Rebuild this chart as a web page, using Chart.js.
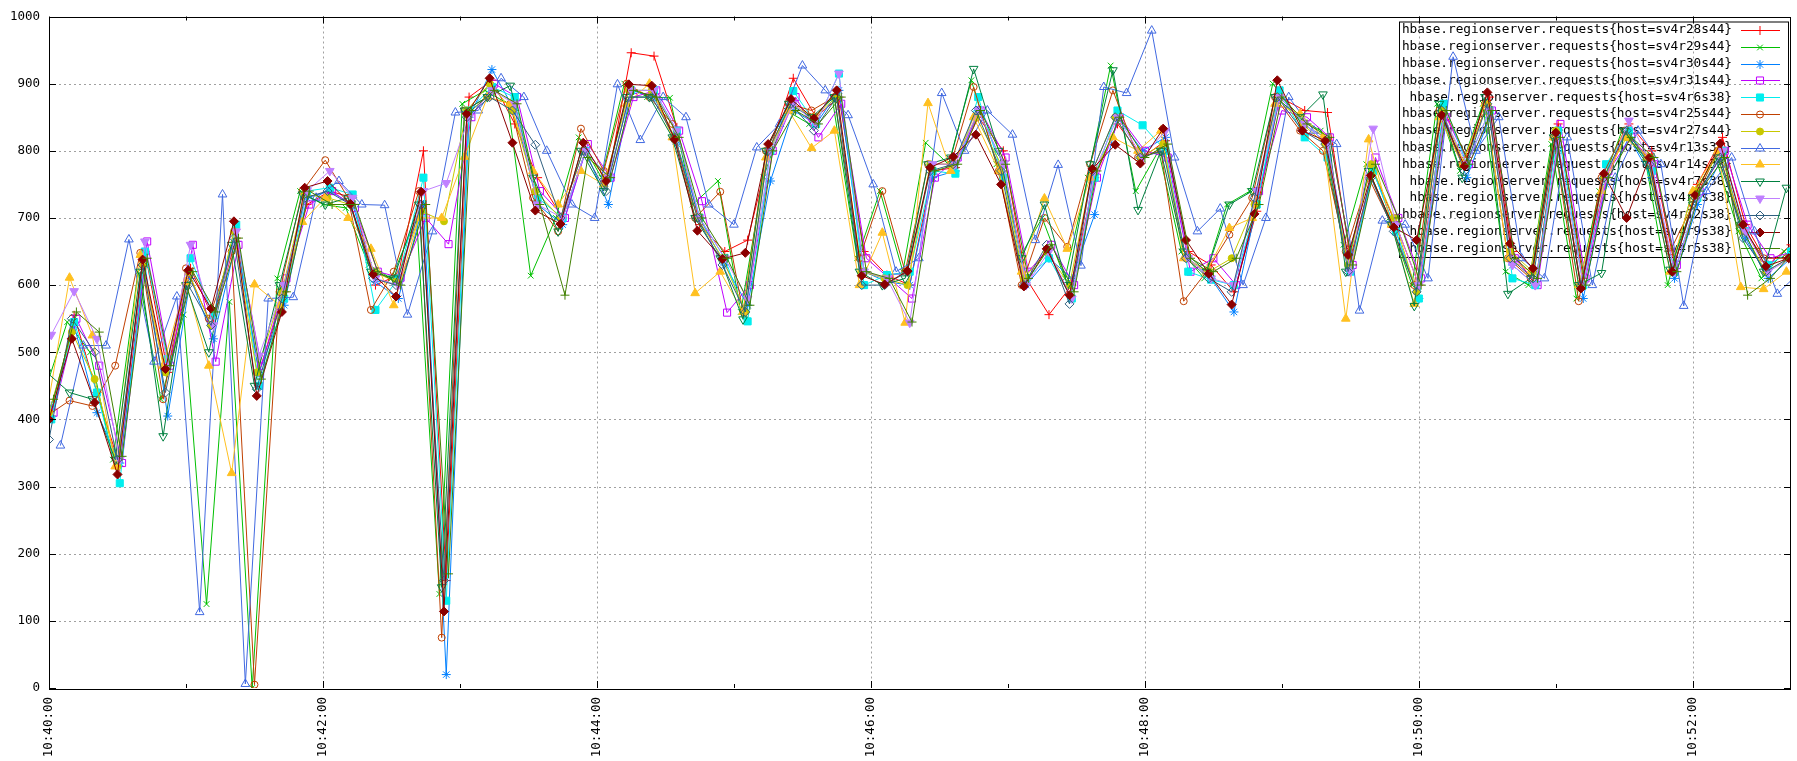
<!DOCTYPE html>
<html>
<head>
<meta charset="utf-8">
<script src="https://cdn.jsdelivr.net/npm/chart.js@4.4.1/dist/chart.umd.min.js"></script>
<style>
    html, body { margin: 0; padding: 0; background: #ffffff; }
    #wrap { width: 1797px; height: 761px; }
</style>
</head>
<body>
<div id="wrap"><canvas id="requestsChart" width="1797" height="761"></canvas></div>
<script>
// sample times, seconds after 10:40:00
const times = [0, 10, 20, 30, 41, 51, 61, 71, 81, 91,
    102, 112, 122, 132, 142, 152, 163, 173, 183, 193,
    203, 213, 224, 234, 244, 254, 264, 274, 284, 295,
    305, 315, 325, 335, 345, 356, 366, 376, 386, 396,
    406, 417, 427, 437, 447, 457, 467, 478, 488, 498,
    508, 518, 528, 538, 549, 559, 569, 579, 589, 599,
    610, 620, 630, 640, 650, 660, 671, 681, 691, 701,
    711, 721, 732, 742, 752, 762];

const hosts = ['sv4r28s44', 'sv4r29s44', 'sv4r30s44', 'sv4r31s44', 'sv4r6s38', 'sv4r25s44', 'sv4r27s44',
    'sv4r13s38', 'sv4r14s38', 'sv4r7s38', 'sv4r8s38', 'sv4r12s38', 'sv4r9s38', 'sv4r5s38'];

// each host reports a few seconds off the common clock
const hostOffsets = [1, -2, 1, 2, 1, -1, 0, 5, -1, -1, 1, 0, 0, 2];

const sv4r28s44 = [405, 555, 440, 330, 650, 470, 625, 550, 670, 470,
    590, 720, 740, 730, 600, 615, 800, 160, 880, 905,
    840, 760, 700, 800, 760, 946, 941, 835, 690, 650,
    667, 805, 908, 850, 880, 650, 615, 600, 770, 775,
    850, 800, 610, 556, 600, 760, 840, 790, 815, 650,
    630, 590, 710, 880, 860, 857, 640, 770, 690, 600,
    860, 790, 880, 650, 600, 840, 610, 760, 840, 800,
    630, 750, 820, 690, 630, 660];
const sv4r29s44 = [440, 545, 500, 340, 620, 430, 556, 125, 575, 0,
    610, 740, 720, 715, 630, 610, 700, 140, 870, 890,
    870, 614, 700, 820, 760, 900, 880, 879, 720, 755,
    560, 761, 860, 840, 880, 640, 740, 620, 812, 780,
    905, 780, 640, 700, 610, 760, 927, 740, 800, 650,
    610, 720, 740, 900, 850, 830, 660, 780, 700, 600,
    870, 770, 870, 620, 600, 810, 580, 740, 830, 790,
    600, 730, 790, 680, 610, 650];
const sv4r30s44 = [420, 540, 410, 335, 630, 405, 610, 520, 665, 470,
    570, 730, 740, 720, 605, 580, 720, 20, 850, 921,
    860, 720, 690, 800, 720, 890, 880, 810, 700, 630,
    570, 755, 860, 840, 890, 620, 605, 600, 760, 770,
    860, 780, 600, 640, 610, 705, 850, 800, 820, 640,
    610, 560, 720, 880, 840, 810, 620, 770, 680, 580,
    850, 760, 850, 630, 600, 800, 580, 750, 820, 760,
    610, 720, 790, 670, 610, 640];
const sv4r31s44 = [410, 550, 480, 335, 665, 480, 660, 486, 660, 480,
    610, 720, 740, 715, 620, 611, 700, 661, 850, 900,
    880, 740, 700, 810, 760, 880, 890, 830, 725, 559,
    600, 800, 880, 820, 870, 640, 610, 580, 760, 790,
    860, 790, 620, 660, 600, 760, 850, 800, 790, 620,
    640, 600, 740, 860, 850, 820, 630, 790, 700, 610,
    850, 780, 860, 640, 600, 840, 610, 770, 820, 780,
    630, 740, 800, 690, 640, 650];
const sv4r6s38 = [400, 545, 440, 305, 650, 490, 640, 555, 690, 450,
    580, 740, 745, 735, 563, 610, 760, 130, 860, 895,
    880, 730, 700, 800, 760, 890, 890, 830, 700, 640,
    546, 800, 889, 840, 915, 600, 615, 620, 770, 766,
    880, 760, 610, 640, 580, 760, 860, 838, 800, 620,
    608, 600, 720, 890, 820, 790, 620, 770, 680, 580,
    870, 780, 860, 610, 600, 830, 600, 780, 830, 770,
    620, 730, 800, 680, 630, 650];
const sv4r25s44 = [405, 428, 420, 480, 648, 430, 625, 550, 650, 5,
    590, 740, 786, 730, 563, 620, 740, 75, 860, 880,
    870, 730, 680, 833, 770, 900, 880, 840, 700, 739,
    560, 800, 870, 860, 880, 640, 740, 620, 780, 780,
    895, 770, 600, 700, 657, 780, 890, 790, 800, 576,
    620, 675, 730, 880, 830, 800, 650, 760, 690, 600,
    860, 780, 870, 640, 610, 820, 576, 760, 830, 790,
    650, 720, 800, 690, 640, 640];
const sv4r27s44 = [410, 530, 460, 330, 630, 470, 620, 540, 680, 470,
    590, 735, 730, 720, 620, 605, 710, 695, 860, 900,
    860, 740, 700, 800, 760, 890, 890, 820, 700, 640,
    560, 800, 870, 850, 880, 620, 610, 600, 780, 780,
    850, 780, 610, 650, 600, 770, 850, 790, 810, 640,
    620, 640, 720, 880, 840, 810, 630, 780, 700, 590,
    860, 780, 870, 650, 620, 830, 600, 760, 820, 790,
    620, 740, 800, 680, 620, 640];
const sv4r13s38 = [361, 510, 510, 668, 486, 583, 113, 735, 6, 580,
    582, 730, 755, 720, 719, 556, 680, 857, 860, 908,
    880, 800, 720, 700, 899, 816, 880, 850, 720, 690,
    805, 840, 927, 890, 853, 750, 620, 640, 886, 800,
    860, 824, 667, 779, 629, 895, 886, 979, 790, 680,
    714, 600, 700, 880, 830, 810, 562, 696, 690, 610,
    940, 800, 850, 640, 610, 820, 600, 760, 830, 780,
    569, 740, 790, 680, 587, 620];
const sv4r14s38 = [410, 611, 525, 330, 645, 480, 605, 480, 320, 601,
    570, 694, 730, 700, 654, 570, 700, 700, 791, 880,
    870, 770, 720, 770, 750, 870, 900, 820, 588, 620,
    560, 790, 860, 804, 830, 600, 678, 544, 871, 770,
    850, 770, 620, 729, 654, 760, 820, 800, 830, 640,
    620, 685, 700, 870, 855, 820, 550, 817, 690, 572,
    850, 780, 870, 640, 620, 820, 600, 740, 820, 790,
    620, 740, 800, 597, 594, 620];
const sv4r7s38 = [470, 440, 430, 340, 620, 375, 600, 500, 660, 450,
    600, 735, 720, 730, 620, 610, 720, 150, 860, 880,
    897, 760, 680, 800, 740, 880, 880, 820, 700, 640,
    549, 800, 870, 850, 880, 620, 600, 610, 780, 790,
    922, 800, 640, 720, 600, 780, 920, 712, 800, 650,
    620, 720, 740, 880, 850, 884, 620, 770, 690, 569,
    870, 760, 880, 587, 610, 820, 600, 618, 830, 780,
    623, 720, 790, 690, 620, 745];
const sv4r8s38 = [526, 591, 520, 340, 665, 480, 660, 540, 680, 495,
    600, 740, 770, 730, 610, 600, 740, 752, 850, 890,
    870, 720, 700, 800, 760, 890, 890, 830, 700, 640,
    580, 800, 870, 840, 915, 620, 610, 544, 780, 780,
    860, 780, 600, 650, 580, 770, 850, 790, 830, 640,
    610, 600, 740, 880, 840, 810, 620, 833, 690, 600,
    850, 780, 860, 630, 600, 810, 600, 760, 845, 780,
    620, 730, 800, 680, 620, 640];
const sv4r12s38 = [370, 550, 500, 340, 630, 440, 600, 540, 670, 445,
    580, 730, 740, 720, 610, 600, 720, 160, 850, 880,
    860, 809, 700, 800, 740, 880, 880, 820, 700, 630,
    560, 800, 870, 830, 880, 600, 600, 620, 770, 780,
    860, 770, 600, 660, 572, 770, 850, 790, 800, 640,
    610, 590, 730, 880, 830, 810, 620, 760, 680, 590,
    860, 770, 870, 640, 610, 820, 600, 760, 830, 780,
    620, 730, 790, 670, 620, 640];
const sv4r9s38 = [400, 520, 425, 318, 638, 475, 622, 565, 695, 435,
    560, 745, 755, 721, 616, 583, 739, 114, 855, 908,
    812, 711, 691, 812, 755, 899, 897, 817, 681, 639,
    648, 810, 877, 848, 890, 614, 601, 621, 775, 791,
    824, 750, 598, 654, 585, 773, 809, 781, 833, 667,
    617, 571, 706, 905, 830, 815, 645, 763, 686, 667,
    853, 777, 887, 662, 625, 827, 595, 766, 700, 790,
    620, 734, 811, 690, 628, 640];
const sv4r5s38 = [430, 560, 530, 345, 640, 480, 620, 560, 670, 460,
    590, 740, 720, 720, 620, 600, 720, 170, 860, 890,
    870, 720, 585, 790, 760, 890, 880, 820, 700, 640,
    570, 800, 860, 840, 880, 620, 610, 545, 770, 780,
    860, 780, 610, 660, 590, 770, 850, 790, 810, 640,
    620, 640, 720, 880, 840, 820, 630, 780, 700, 600,
    860, 780, 860, 640, 610, 820, 600, 760, 820, 790,
    620, 740, 790, 585, 610, 650];

const yTicks = [0, 100, 200, 300, 400, 500, 600, 700, 800, 900, 1000];
const xTickLabels = ['10:40:00', '10:42:00', '10:44:00', '10:46:00', '10:48:00', '10:50:00', '10:52:00'];

const series = [sv4r28s44, sv4r29s44, sv4r30s44, sv4r31s44, sv4r6s38, sv4r25s44, sv4r27s44,
    sv4r13s38, sv4r14s38, sv4r7s38, sv4r8s38, sv4r12s38, sv4r9s38, sv4r5s38];

// gnuplot default line colours and point types
const colors = ['#ff0000', '#00c000', '#0080ff', '#c000ff', '#00eeee', '#c04000', '#c8c800',
    '#4169e1', '#ffc020', '#008040', '#c080ff', '#306080', '#8b0000', '#408000'];
const pointStyles = ['cross', 'crossRot', 'star', 'rect', 'rect', 'circle', 'circle',
    'triangle', 'triangle', 'triangle', 'triangle', 'rectRot', 'rectRot', 'cross'];
const filled = [false, false, false, false, true, false, true, false, true, false, true, false, true, false];
const rotations = [0, 0, 0, 0, 0, 0, 0, 0, 0, 180, 180, 0, 0, 0];
const radii = [4.5, 4, 4.5, 5, 5, 3.5, 3.5, 5, 5, 5, 5, 4.5, 4.5, 4.5];

const FONT = "'DejaVu Sans Mono', 'Liberation Mono', monospace";

const datasets = hosts.map(function (h, i) {
    return {
        label: 'hbase.regionserver.requests{host=' + h + '}',
        data: series[i].map(function (v, k) { return { x: times[k] + hostOffsets[i], y: v }; }),
        borderColor: colors[i],
        backgroundColor: filled[i] ? colors[i] : 'rgba(0,0,0,0)',
        pointBorderColor: colors[i],
        pointBackgroundColor: filled[i] ? colors[i] : 'rgba(0,0,0,0)',
        pointStyle: pointStyles[i],
        pointRotation: rotations[i],
        pointRadius: radii[i],
        pointBorderWidth: 1,
        borderWidth: 1,
        tension: 0,
        fill: false,
        order: 13 - i
    };
});

function strokeLine(ctx, x1, y1, x2, y2) {
    ctx.beginPath();
    ctx.moveTo(x1, y1);
    ctx.lineTo(x2, y2);
    ctx.stroke();
}

// grid, key, frame and inward ticks the way gnuplot draws them
const gnuplotFrame = {
    id: 'gnuplotFrame',
    beforeDatasetsDraw(chart) {
        const { ctx, chartArea: a, scales: { x, y } } = chart;
        ctx.save();
        ctx.strokeStyle = '#a0a0a0';
        ctx.lineWidth = 1;
        ctx.setLineDash([2, 3]);
        yTicks.forEach(function (v) {
            if (v > 0 && v < 1000) {
                const py = Math.round(y.getPixelForValue(v)) + 0.5;
                strokeLine(ctx, a.left, py, a.right, py);
            }
        });
        xTickLabels.forEach(function (lab, k) {
            if (k > 0) {
                const px = Math.round(x.getPixelForValue(k * 120)) + 0.5;
                strokeLine(ctx, px, a.top, px, a.bottom);
            }
        });
        ctx.setLineDash([]);

        // key
        const boxL = 1399, boxT = 21.5, boxR = 1788, boxB = 257;
        ctx.strokeStyle = '#000000';
        ctx.strokeRect(boxL + 0.5, boxT + 0.5, boxR - boxL, boxB - boxT);
        ctx.font = '12.75px ' + FONT;
        ctx.textAlign = 'right';
        ctx.textBaseline = 'middle';
        datasets.forEach(function (ds, i) {
            const ry = 30 + i * 16.8;
            ctx.fillStyle = '#000000';
            ctx.fillText(ds.label, 1732, ry);
            ctx.strokeStyle = colors[i];
            ctx.lineWidth = 1;
            strokeLine(ctx, 1741, Math.round(ry) + 0.5, 1780, Math.round(ry) + 0.5);
            ctx.fillStyle = filled[i] ? colors[i] : 'rgba(0,0,0,0)';
            if (Chart.helpers && Chart.helpers.drawPoint) {
                Chart.helpers.drawPoint(ctx, {
                    pointStyle: pointStyles[i], rotation: rotations[i], radius: radii[i], borderWidth: 1
                }, 1760, Math.round(ry) + 0.5);
            }
        });
        ctx.restore();
    },
    afterDatasetsDraw(chart) {
        const { ctx, chartArea: a, scales: { x, y } } = chart;
        ctx.save();
        ctx.strokeStyle = '#000000';
        ctx.lineWidth = 1;
        for (let s = 0; s <= 720; s += 60) {
            const px = Math.round(x.getPixelForValue(s)) + 0.5;
            const len = s % 120 === 0 ? 7 : 4;
            strokeLine(ctx, px, a.bottom, px, a.bottom - len);
            strokeLine(ctx, px, a.top, px, a.top + len);
        }
        yTicks.forEach(function (v) {
            const py = Math.round(y.getPixelForValue(v)) + 0.5;
            strokeLine(ctx, a.left, py, a.left + 7, py);
            strokeLine(ctx, a.right, py, a.right - 7, py);
        });
        ctx.strokeRect(Math.round(a.left) + 0.5, Math.round(a.top) + 0.5,
            Math.round(a.right - a.left) - 1, Math.round(a.bottom - a.top));
        ctx.restore();
    }
};

const requestsCtx = document.getElementById('requestsChart').getContext('2d');
new Chart(requestsCtx, {
    type: 'line',
    data: { datasets: datasets },
    options: {
        responsive: false,
        animation: false,
        layout: { padding: { top: 15, right: 2, left: 0, bottom: 0 } },
        plugins: {
            legend: { display: false },
            tooltip: { enabled: false }
        },
        scales: {
            x: {
                type: 'linear',
                min: 0,
                max: 763,
                afterFit: function (scale) { scale.height = 73; },
                ticks: {
                    stepSize: 120,
                    includeBounds: false,
                    autoSkip: false,
                    minRotation: 90,
                    maxRotation: 90,
                    padding: 9,
                    color: '#000000',
                    font: { family: FONT, size: 12.5 },
                    callback: function (value) {
                        return value % 120 === 0 ? xTickLabels[value / 120] : '';
                    }
                },
                grid: { display: false, drawTicks: false },
                border: { display: false }
            },
            y: {
                min: 0,
                max: 1000,
                afterFit: function (scale) { scale.width = 49; },
                ticks: {
                    stepSize: 100,
                    padding: 9,
                    color: '#000000',
                    font: { family: FONT, size: 12.5 },
                    callback: function (value) { return String(value); }
                },
                grid: { display: false, drawTicks: false },
                border: { display: false }
            }
        }
    },
    plugins: [gnuplotFrame]
});
</script>
</body>
</html>
